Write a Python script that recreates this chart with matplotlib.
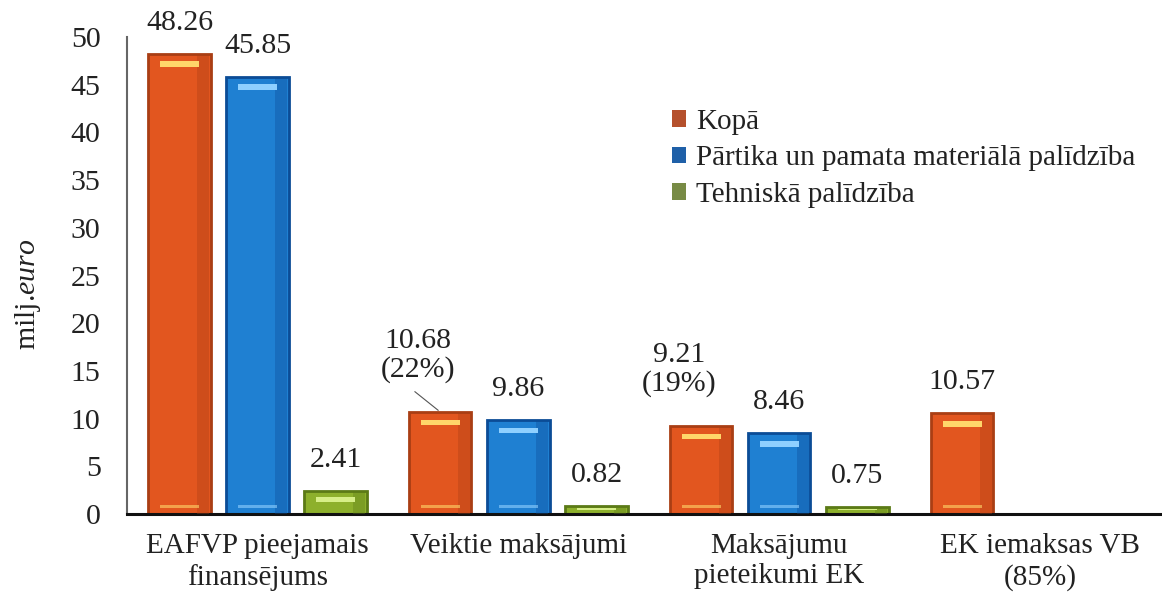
import numpy as np
import matplotlib
matplotlib.use("Agg")
import matplotlib.pyplot as plt
from matplotlib.patches import Patch

plt.rcParams['font.family'] = ['Liberation Serif', 'DejaVu Serif']
plt.rcParams['mathtext.fontset'] = 'custom'
plt.rcParams['mathtext.rm'] = 'Liberation Serif'
plt.rcParams['mathtext.it'] = 'Liberation Serif:italic'

# data
categories = ["EAFVP pieejamais\nfinansējums", "Veiktie maksājumi",
              "Maksājumu\npieteikumi EK", "EK iemaksas VB\n(85%)"]
series_names = ["Kopā", "Pārtika un pamata materiālā palīdzība", "Tehniskā palīdzība"]
kopa = [48.26, 10.68, 9.21, 10.57]
partika = [45.85, 9.86, 8.46, np.nan]
tehniska = [2.41, 0.82, 0.75, np.nan]
kopa_pct = ["", "(22%)", "(19%)", ""]
yticks = [0, 5, 10, 15, 20, 25, 30, 35, 40, 45, 50]

face = ["#E2561F", "#1F80D2", "#8DB02C"]
dark = ["#A93E14", "#0B4C96", "#5B7A16"]
light = ["#FFD66A", "#8FD0FF", "#D6EE88"]
legend_cols = ["#B5502C", "#1F60A8", "#788B45"]
txt = "#222222"

fig = plt.figure(figsize=(11.62, 5.92), dpi=100)
ax = fig.add_axes([127 / 1162, 78 / 592, 1 - 127 / 1162, 477 / 592])

x = np.arange(len(categories))
w = 0.238
off = 0.299
fs = 21.5
fs_cat = 21

for i, vals in enumerate([kopa, partika, tehniska]):
    vals = np.array(vals, dtype=float)
    pos = x + (i - 1) * off
    ok = ~np.isnan(vals)
    ax.bar(pos[ok], vals[ok], width=w, color=face[i], edgecolor=dark[i], linewidth=2, zorder=2)
    # darker right side shading
    ax.bar(pos[ok] + w * 0.38, vals[ok], width=w * 0.2, color=dark[i], alpha=0.35,
           linewidth=0, zorder=3)
    # bevel highlights at top and bottom
    for p, v in zip(pos[ok], vals[ok]):
        inset = min(0.8, v * 0.25)
        sh = min(0.6, v * 0.25)
        ax.bar(p, sh, bottom=v - inset - sh, width=w * 0.62, color=light[i],
               linewidth=0, zorder=4)
        if v > 3:
            ax.bar(p, 0.3, bottom=0.6, width=w * 0.62, color=light[i], alpha=0.6,
                   linewidth=0, zorder=4)

# value labels
for i, vals in enumerate([kopa, partika, tehniska]):
    for j, v in enumerate(vals):
        if np.isnan(v):
            continue
        p = x[j] + (i - 1) * off
        if i == 0 and kopa_pct[j]:
            ax.annotate(f"{v:.2f}\n{kopa_pct[j]}", (p, v), xytext=(-16, 21),
                        textcoords="offset points", ha="center", va="bottom",
                        fontsize=fs, linespacing=1.1, color=txt)
            if j == 1:
                ax.annotate("", (p, v), xytext=(-20, 16), textcoords="offset points",
                            arrowprops=dict(arrowstyle="-", color="#555555", lw=0.8))
        else:
            ax.annotate(f"{v:.2f}", (p, v), xytext=(0, 13), textcoords="offset points",
                        ha="center", va="bottom", fontsize=fs, color=txt)

ax.set_xlim(-0.5, 3.466)
ax.set_ylim(0, 50)
ax.set_yticks(yticks)
ax.set_yticklabels([str(t) for t in yticks], fontsize=fs, color=txt)
ax.set_xticks(x)
ax.set_xticklabels(categories, fontsize=fs_cat, color=txt, linespacing=1.2)
ax.tick_params(axis="both", length=0)
ax.tick_params(axis="x", pad=14)
ax.tick_params(axis="y", pad=19)
ax.spines["top"].set_visible(False)
ax.spines["right"].set_visible(False)
ax.spines["left"].set_color("#666666")
ax.spines["left"].set_linewidth(1.5)
ax.spines["bottom"].set_color("#111111")
ax.spines["bottom"].set_linewidth(2.2)
ax.set_ylabel(r"milj.$\mathit{euro}$", fontsize=fs, color=txt)
ax.yaxis.set_label_coords(-84 / 1035, 0.46)

handles = [Patch(facecolor=c, edgecolor="none") for c in legend_cols]
ax.legend(handles, series_names, loc="upper left", bbox_to_anchor=(660 / 1162, 1 - 97 / 592),
          bbox_transform=fig.transFigure, frameon=False, fontsize=21,
          handlelength=0.5, handleheight=0.5, handletextpad=0.35, labelspacing=0.36,
          borderaxespad=0, labelcolor=txt)

fig.savefig("out.png", dpi=100)
